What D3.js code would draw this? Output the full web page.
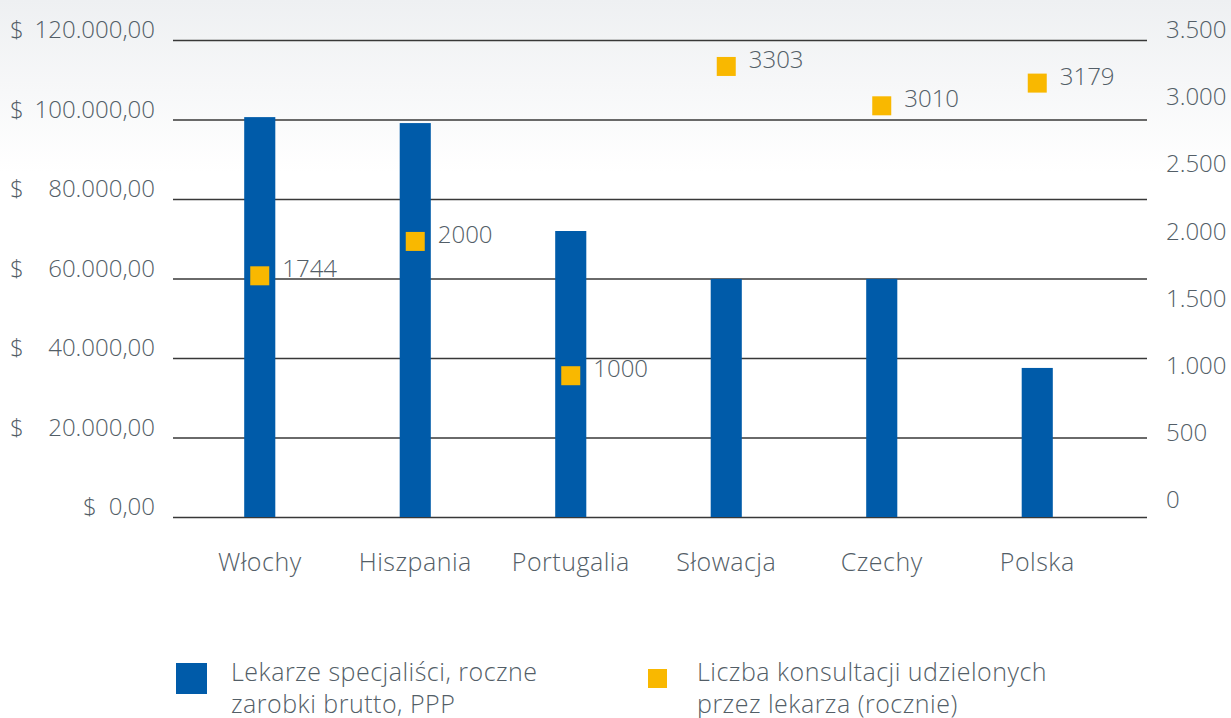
<!DOCTYPE html>
<html>
<head>
<meta charset="utf-8">
<script src="https://cdn.jsdelivr.net/npm/d3@7"></script>
<style>
  html, body { margin: 0; padding: 0; background: #fff; }
  svg { display: block; }
  text { font-family: "Open Sans", "Roboto", sans-serif; font-weight: 300; fill: #535e67; }
  .words { letter-spacing: 0.5px; }
</style>
</head>
<body>
<svg id="chart" width="1231" height="718"></svg>
<script>
// Countries on the category axis
const categories = ["Włochy", "Hiszpania", "Portugalia", "Słowacja", "Czechy", "Polska"];
// Specialist doctors, gross annual earnings (USD, PPP)
const earnings = [100600, 99100, 71950, 59900, 59900, 37500];
// Consultations given per doctor per year
const consultations = [1744, 2000, 1000, 3303, 3010, 3179];
// Axis tick values
const earningsTicks = [0, 20000, 40000, 60000, 80000, 100000, 120000];
const consultTicks = [0, 500, 1000, 1500, 2000, 2500, 3000, 3500];
// Legend entries
const legendEarnings = ["Lekarze specjaliści, roczne", "zarobki brutto, PPP"];
const legendConsult = ["Liczba konsultacji udzielonych", "przez lekarza (rocznie)"];

const BLUE = "#005ba9";
const GOLD = "#f9b800";
const FS_NUM = 24;   // numbers
const FS_TXT = 25;   // words

const svg = d3.select("#chart");
const W = 1231, H = 718;

// soft grey wash at the top of the canvas
const defs = svg.append("defs");
const grad = defs.append("linearGradient").attr("id", "bg").attr("x1", 0).attr("y1", 0).attr("x2", 0).attr("y2", 1);
grad.append("stop").attr("offset", "0").attr("stop-color", "#eef0f2");
grad.append("stop").attr("offset", "0.24").attr("stop-color", "#ffffff");
grad.append("stop").attr("offset", "1").attr("stop-color", "#ffffff");
svg.append("rect").attr("width", W).attr("height", H).attr("fill", "url(#bg)");

const gridLeft = 173, gridRight = 1147;

const x = d3.scaleBand().domain(categories).range([182, 1115]).paddingInner(0.8).paddingOuter(0.4);
const y = d3.scaleLinear().domain([0, 120000]).range([517, 40]);
const yR = d3.scaleLinear().domain([0, 3500]).range([510, 40]);

// 120000 -> "120.000,00"
const fmtNum = v => d3.format(",.2f")(v).replace(/,/g, "#").replace(".", ",").replace(/#/g, ".");

// left axis with gridlines
const gLeft = svg.append("g").attr("transform", `translate(${gridLeft},0)`)
  .call(d3.axisLeft(y).tickValues(earningsTicks).tickSize(-(gridRight - gridLeft)).tickPadding(18).tickFormat(fmtNum));
gLeft.select(".domain").remove();
gLeft.selectAll(".tick line").attr("stroke", "#383838").attr("stroke-width", 1.6);
gLeft.selectAll(".tick text")
  .attr("font-size", FS_NUM).attr("fill", null).attr("font-family", null)
  .attr("y", -10)
  .each(function(d) {
    if (d === 0) {
      d3.select(this).text("$\u2002" + fmtNum(d));
    } else {
      // currency sign sits flush left, away from the figure
      d3.select(this.parentNode).append("text")
        .attr("x", 10 - gridLeft).attr("y", -10).attr("dy", "0.32em")
        .attr("text-anchor", "start").attr("font-size", FS_NUM).text("$");
    }
  });

// right axis for consultations
const gRight = svg.append("g").attr("transform", `translate(${gridRight},0)`)
  .call(d3.axisRight(yR).tickValues(consultTicks).tickSize(0).tickPadding(19)
    .tickFormat(v => d3.format(",")(v).replace(/,/g, ".")));
gRight.select(".domain").remove();
gRight.selectAll(".tick text").attr("font-size", FS_NUM).attr("fill", null).attr("font-family", null).attr("y", -10);

// bottom category labels
const gBottom = svg.append("g").attr("transform", "translate(0,517)")
  .call(d3.axisBottom(x).tickSize(0));
gBottom.select(".domain").remove();
gBottom.selectAll(".tick text").attr("class", "words").attr("font-size", FS_TXT).attr("fill", null).attr("font-family", null)
  .attr("y", 54).attr("dy", 0);

// earnings bars
svg.append("g").selectAll("rect").data(categories).join("rect")
  .attr("x", d => x(d))
  .attr("width", x.bandwidth())
  .attr("y", (d, i) => y(earnings[i]))
  .attr("height", (d, i) => y(0) - y(earnings[i]))
  .attr("fill", BLUE);

// consultation markers with value labels
const S = 19;
const pts = categories.map((c, i) => ({ c, v: consultations[i] }));
const gPts = svg.append("g");
gPts.selectAll("rect").data(pts).join("rect")
  .attr("x", d => x(d.c) + x.bandwidth() / 2 - S / 2)
  .attr("y", d => yR(d.v) - S / 2)
  .attr("width", S).attr("height", S)
  .attr("fill", GOLD);
gPts.selectAll("text").data(pts).join("text")
  .attr("x", d => x(d.c) + x.bandwidth() / 2 + S / 2 + 13)
  .attr("y", d => yR(d.v) - 7)
  .attr("dy", "0.35em")
  .attr("font-size", FS_NUM)
  .text(d => d.v);

// legend
const lg = svg.append("g").attr("class", "words");
lg.append("rect").attr("x", 176).attr("y", 663).attr("width", 31).attr("height", 31).attr("fill", BLUE);
lg.append("text").attr("x", 231).attr("y", 681).attr("font-size", FS_TXT)
  .selectAll("tspan").data(legendEarnings).join("tspan")
  .attr("x", 231).attr("dy", (d, i) => i ? 32 : 0).text(d => d);
lg.append("rect").attr("x", 648).attr("y", 669).attr("width", S).attr("height", S).attr("fill", GOLD);
lg.append("text").attr("x", 697).attr("y", 681).attr("font-size", FS_TXT)
  .selectAll("tspan").data(legendConsult).join("tspan")
  .attr("x", 697).attr("dy", (d, i) => i ? 32 : 0).text(d => d);
</script>
</body>
</html>
